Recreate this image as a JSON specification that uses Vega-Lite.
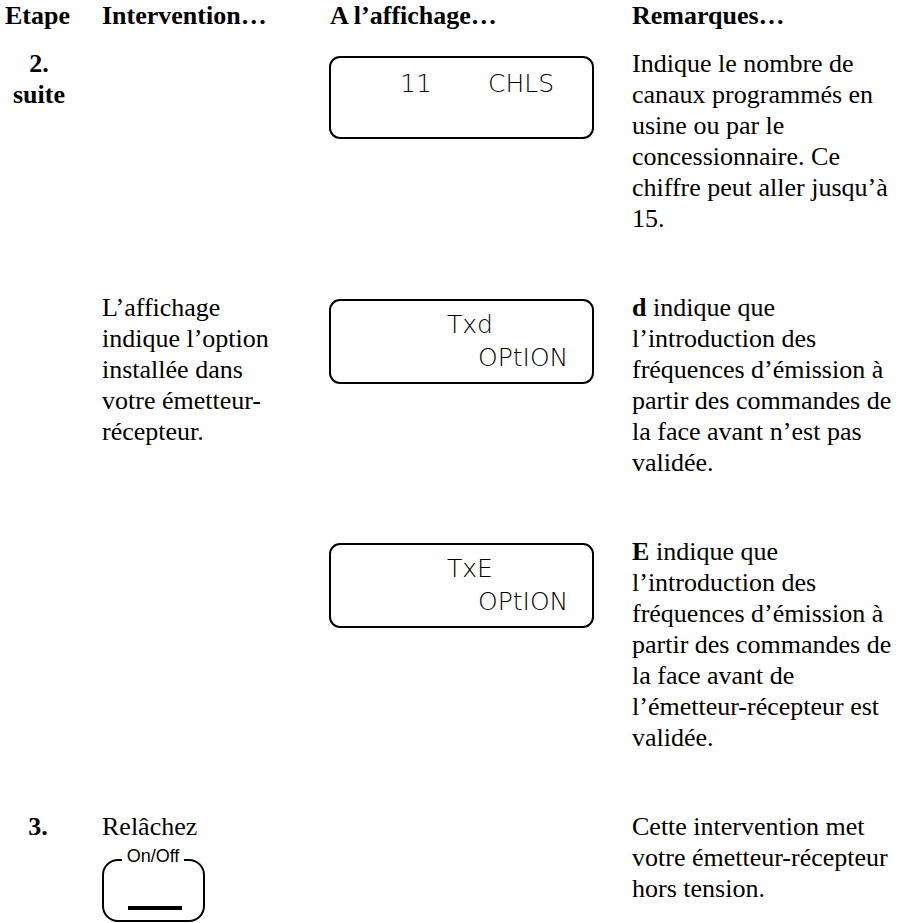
{
  "$schema": "https://vega.github.io/schema/vega-lite/v6.json",
  "width": 909,
  "height": 923,
  "autosize": {"type": "fit", "contains": "padding"},
  "padding": 0,
  "background": "white",
  "config": {"view": {"stroke": null}},
  "datasets": {
    "body": [
      {"x": 632, "y": 72, "t": "Indique le nombre de"},
      {"x": 632, "y": 103, "t": "canaux programmés en"},
      {"x": 632, "y": 134, "t": "usine ou par le"},
      {"x": 632, "y": 165, "t": "concessionnaire. Ce"},
      {"x": 632, "y": 196, "t": "chiffre peut aller jusqu’à"},
      {"x": 632, "y": 227, "t": "15."},
      {"x": 102, "y": 316, "t": "L’affichage"},
      {"x": 102, "y": 347, "t": "indique l’option"},
      {"x": 102, "y": 378, "t": "installée dans"},
      {"x": 102, "y": 409, "t": "votre émetteur-"},
      {"x": 102, "y": 440, "t": "récepteur."},
      {"x": 653, "y": 316, "t": "indique que"},
      {"x": 632, "y": 347, "t": "l’introduction des"},
      {"x": 632, "y": 378, "t": "fréquences d’émission à"},
      {"x": 632, "y": 409, "t": "partir des commandes de"},
      {"x": 632, "y": 440, "t": "la face avant n’est pas"},
      {"x": 632, "y": 471, "t": "validée."},
      {"x": 656, "y": 560, "t": "indique que"},
      {"x": 632, "y": 591, "t": "l’introduction des"},
      {"x": 632, "y": 622, "t": "fréquences d’émission à"},
      {"x": 632, "y": 653, "t": "partir des commandes de"},
      {"x": 632, "y": 684, "t": "la face avant de"},
      {"x": 632, "y": 715, "t": "l’émetteur-récepteur est"},
      {"x": 632, "y": 746, "t": "validée."},
      {"x": 102, "y": 835, "t": "Relâchez"},
      {"x": 632, "y": 835, "t": "Cette intervention met"},
      {"x": 632, "y": 866, "t": "votre émetteur-récepteur"},
      {"x": 632, "y": 897, "t": "hors tension."}
    ],
    "bold": [
      {"x": 5, "y": 24, "t": "Etape"},
      {"x": 102, "y": 24, "t": "Intervention…"},
      {"x": 330, "y": 24, "t": "A l’affichage…"},
      {"x": 632, "y": 24, "t": "Remarques…"},
      {"x": 632, "y": 316, "t": "d"},
      {"x": 632, "y": 560, "t": "E"}
    ],
    "steps": [
      {"x": 39, "y": 72, "t": "2."},
      {"x": 39, "y": 103, "t": "suite"},
      {"x": 38, "y": 835, "t": "3."}
    ],
    "boxes": [
      {"x": 330, "x2": 593, "y": 57, "y2": 138},
      {"x": 330, "x2": 593, "y": 300, "y2": 383},
      {"x": 330, "x2": 593, "y": 544, "y2": 627}
    ],
    "lcd": [
      {"x": 400, "y": 92, "t": "11"},
      {"x": 488, "y": 92, "t": "CHLS"},
      {"x": 447, "y": 333, "t": "Txd"},
      {"x": 478, "y": 366, "t": "OPtION"},
      {"x": 447, "y": 577, "t": "TxE"},
      {"x": 478, "y": 610, "t": "OPtION"}
    ],
    "button": [{"x": 103, "x2": 204, "y": 860, "y2": 921}],
    "mask": [{"x": 122, "x2": 184, "y": 852, "y2": 866}],
    "label": [{"x": 153, "y": 862, "t": "On/Off"}],
    "bar": [{"x": 128, "x2": 182, "y": 908}]
  },
  "layer": [
    {
      "data": {"name": "boxes"},
      "mark": {"type": "rect", "fill": "white", "stroke": "black", "strokeWidth": 2, "cornerRadius": 10},
      "encoding": {
        "x": {"field": "x", "type": "quantitative", "scale": {"domain": [0, 909], "nice": false, "zero": false}, "axis": null},
        "x2": {"field": "x2"},
        "y": {"field": "y", "type": "quantitative", "scale": {"domain": [0, 923], "nice": false, "zero": false, "reverse": true}, "axis": null},
        "y2": {"field": "y2"}
      }
    },
    {
      "data": {"name": "button"},
      "mark": {"type": "rect", "fill": "white", "stroke": "black", "strokeWidth": 2, "cornerRadius": 15},
      "encoding": {
        "x": {"field": "x", "type": "quantitative"},
        "x2": {"field": "x2"},
        "y": {"field": "y", "type": "quantitative"},
        "y2": {"field": "y2"}
      }
    },
    {
      "data": {"name": "mask"},
      "mark": {"type": "rect", "fill": "white", "stroke": null},
      "encoding": {
        "x": {"field": "x", "type": "quantitative"},
        "x2": {"field": "x2"},
        "y": {"field": "y", "type": "quantitative"},
        "y2": {"field": "y2"}
      }
    },
    {
      "data": {"name": "bar"},
      "mark": {"type": "rule", "stroke": "black", "strokeWidth": 4},
      "encoding": {
        "x": {"field": "x", "type": "quantitative"},
        "x2": {"field": "x2"},
        "y": {"field": "y", "type": "quantitative"}
      }
    },
    {
      "data": {"name": "label"},
      "mark": {"type": "text", "font": "Liberation Sans", "fontSize": 18, "align": "center", "baseline": "alphabetic", "color": "black"},
      "encoding": {
        "x": {"field": "x", "type": "quantitative"},
        "y": {"field": "y", "type": "quantitative"},
        "text": {"field": "t"}
      }
    },
    {
      "data": {"name": "body"},
      "mark": {"type": "text", "font": "Liberation Serif", "fontSize": 26, "align": "left", "baseline": "alphabetic", "color": "black"},
      "encoding": {
        "x": {"field": "x", "type": "quantitative"},
        "y": {"field": "y", "type": "quantitative"},
        "text": {"field": "t"}
      }
    },
    {
      "data": {"name": "bold"},
      "mark": {"type": "text", "font": "Liberation Serif", "fontSize": 26, "fontWeight": "bold", "align": "left", "baseline": "alphabetic", "color": "black"},
      "encoding": {
        "x": {"field": "x", "type": "quantitative"},
        "y": {"field": "y", "type": "quantitative"},
        "text": {"field": "t"}
      }
    },
    {
      "data": {"name": "steps"},
      "mark": {"type": "text", "font": "Liberation Serif", "fontSize": 26, "fontWeight": "bold", "align": "center", "baseline": "alphabetic", "color": "black"},
      "encoding": {
        "x": {"field": "x", "type": "quantitative"},
        "y": {"field": "y", "type": "quantitative"},
        "text": {"field": "t"}
      }
    },
    {
      "data": {"name": "lcd"},
      "mark": {"type": "text", "font": "DejaVu Sans", "fontSize": 25, "fontWeight": 200, "align": "left", "baseline": "alphabetic", "color": "black"},
      "encoding": {
        "x": {"field": "x", "type": "quantitative"},
        "y": {"field": "y", "type": "quantitative"},
        "text": {"field": "t"}
      }
    }
  ]
}
